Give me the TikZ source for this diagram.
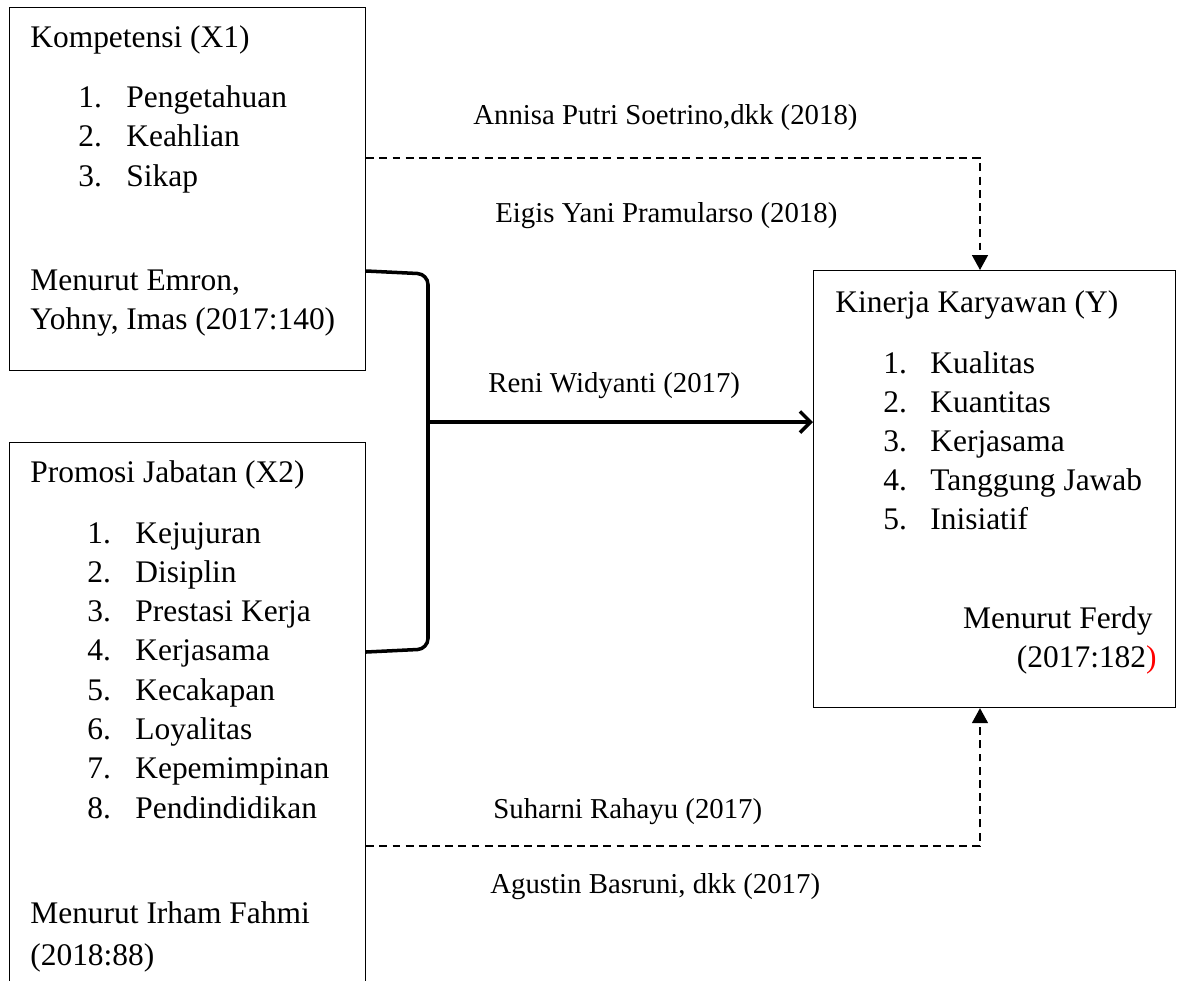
\documentclass[tikz,border=0pt]{standalone}
\usepackage{fontspec}
\setmainfont{Liberation Serif}
\usetikzlibrary{arrows.meta, positioning, calc}
\tikzstyle{box} = [rectangle, draw=black, line width=0.7pt, anchor=north west, inner sep=0pt]
\tikzstyle{txt} = [anchor=base west, inner sep=0pt, font=\fontsize{17.9}{22}\selectfont]
\tikzstyle{txtr} = [txt, anchor=base east]
\tikzstyle{lbl} = [anchor=base west, inner sep=0pt, font=\fontsize{16.4}{20}\selectfont]
\tikzstyle{bracket} = [line width=2pt, rounded corners=6pt]
\tikzstyle{arrow} = [line width=2pt, -{Straight Barb[length=6pt,width=12pt]}]
\tikzstyle{dasharrow} = [line width=1.1pt, dash pattern=on 4.5pt off 3pt,
    -{Triangle[length=8.5pt,width=9pt]}]

\begin{document}
\begin{tikzpicture}[x=0.02cm, y=-0.02cm]
  \useasboundingbox (0,0) rectangle (1181,981);
  \clip (0,0) rectangle (1181,981);

  % boxes
  \node[box, minimum width=7.12cm, minimum height=7.26cm](kom) at (9,7) {};
  \node[box, minimum width=7.12cm, minimum height=11.6cm](pro) at (9,442) {};
  \node[box, minimum width=7.24cm, minimum height=8.74cm](kin) at (813,270) {};

  % Kompetensi
  \node[txt](komt) at (30,47) {Kompetensi (X1)};
  \foreach \i/\t in {1/Pengetahuan, 2/Keahlian, 3/Sikap}{
    \node[txt](komn\i) at (78,67.5+39.5*\i) {\i.};
    \node[txt](komi\i) at (126,67.5+39.5*\i) {\t};
  }
  \node[txt](koms1) at (30,290) {Menurut Emron,};
  \node[txt](koms2) at (30,329) {Yohny, Imas (2017:140)};

  % Promosi Jabatan
  \node[txt](prot) at (30,482) {Promosi Jabatan (X2)};
  \foreach \i/\t in {1/Kejujuran, 2/Disiplin, 3/Prestasi Kerja, 4/Kerjasama,
      5/Kecakapan, 6/Loyalitas, 7/Kepemimpinan, 8/Pendindidikan}{
    \node[txt](pron\i) at (87,503.7+39.3*\i) {\i.};
    \node[txt](proi\i) at (135,503.7+39.3*\i) {\t};
  }
  \node[txt](pros1) at (30,923) {Menurut Irham Fahmi};
  \node[txt](pros2) at (30,965) {(2018:88)};

  % Kinerja Karyawan
  \node[txt](kint) at (835,312) {Kinerja Karyawan (Y)};
  \foreach \i/\t in {1/Kualitas, 2/Kuantitas, 3/Kerjasama, 4/Tanggung Jawab,
      5/Inisiatif}{
    \node[txt](kinn\i) at (883,334+39*\i) {\i.};
    \node[txt](kini\i) at (930,334+39*\i) {\t};
  }
  \node[txtr](kins1) at (1153,628) {Menurut Ferdy};
  \node[txtr](kins2) at (1157,667) {(2017:182\textcolor{red}{)}};

  % labels
  \node[lbl](l1) at (473,124) {Annisa Putri Soetrino,dkk (2018)};
  \node[lbl](l2) at (495,222) {Eigis Yani Pramularso (2018)};
  \node[lbl](l3) at (488,392) {Reni Widyanti (2017)};
  \node[lbl](l4) at (493,818) {Suharni Rahayu (2017)};
  \node[lbl](l5) at (490,893) {Agustin Basruni, dkk (2017)};

  % connectors
  \coordinate (jn) at (428,422);
  \draw[bracket](kom.east |- 0,271) -- (428,274) -- (jn) -- (428,649)
    -- (pro.east |- 0,652);
  \draw[arrow](jn) -- (kin.west |- jn);
  \draw[dasharrow](kom.east |- 0,158) -| (kin.north -| 980,0);
  \draw[dasharrow](pro.east |- 0,846) -| (kin.south -| 980,0);
\end{tikzpicture}
\end{document}
